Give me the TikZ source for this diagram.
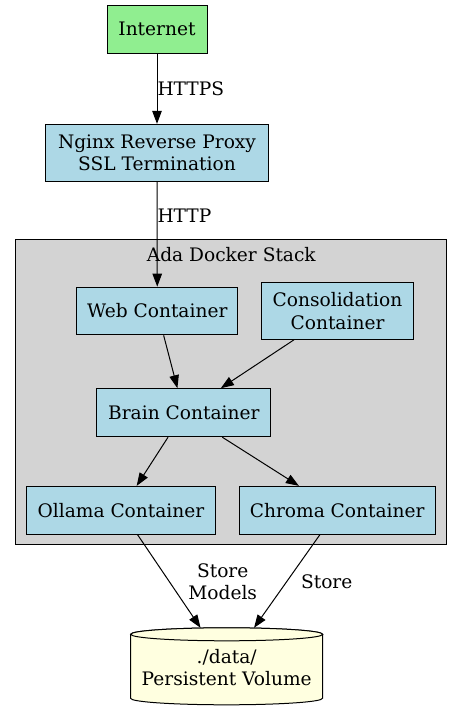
\documentclass[tikz,border=0pt]{standalone}
\usepackage{fontspec}
\setmainfont{DejaVu Serif}
\usetikzlibrary{arrows.meta}
\definecolor{lgreen}{HTML}{90EE90}
\definecolor{lblue}{HTML}{ADD8E6}
\definecolor{lgrey}{HTML}{D3D3D3}
\definecolor{lyellow}{HTML}{FFFFE0}
\tikzset{
  box/.style={draw=black, line width=1pt, fill=lblue, inner sep=0pt, align=center},
  conn/.style={line width=1pt, -{Triangle[length=13pt,width=9.5pt]}},
  lbl/.style={inner sep=0pt, align=center},
}
\begin{document}
\begin{tikzpicture}[x=1pt,y=-1pt, font=\fontsize{18.6}{22.4}\selectfont]
\useasboundingbox (0,0) rectangle (463,712);
% cluster
\node[draw=black, line width=1pt, fill=lgrey, minimum width=431pt, minimum height=305.3pt, inner sep=0pt] (stack) at (231.2,391.7) {};
\node[lbl, anchor=base] (stacklbl) at (231.3,261.7) {Ada Docker Stack};
% nodes
\node[box, fill=lgreen, minimum width=100pt, minimum height=48pt] (inet) at (157,29) {Internet};
\node[box, minimum width=222.6pt, minimum height=56.7pt] (nginx) at (157,152.7) {Nginx Reverse Proxy\\SSL Termination};
\node[box, minimum width=161.3pt, minimum height=47.7pt] (web) at (157.3,311) {Web Container};
\node[box, minimum width=151.6pt, minimum height=56.6pt] (cons) at (337.5,311) {Consolidation\\Container};
\node[box, minimum width=173.7pt, minimum height=48pt] (brain) at (183.8,412.7) {Brain Container};
\node[box, minimum width=188.6pt, minimum height=47.7pt] (oll) at (121,510.2) {Ollama Container};
\node[box, minimum width=196.3pt, minimum height=47.7pt] (chroma) at (337.2,510.2) {Chroma Container};
% volume
\node[lbl, minimum width=192pt, minimum height=77pt] (vol) at (226.7,666.5) {};
\path (vol.north west) ++(0,6.5) coordinate (vtl);
\filldraw[fill=lyellow, line width=1pt] (vtl) -- ++(0,64) arc[start angle=180, end angle=360, x radius=96pt, y radius=6.5pt] -- ++(0,-64) arc[start angle=0, end angle=180, x radius=96pt, y radius=6.5pt] -- cycle;
\path (vol.north) ++(0,6.5) coordinate (vtc);
\filldraw[fill=lyellow, line width=1pt] (vtc) ellipse [x radius=96pt, y radius=6.5pt];
\node[lbl, font=\fontsize{18.6}{21.3}\selectfont] (voltext) at (226.7,667.5) {./data/\\Persistent Volume};
% connectors
\draw[conn] (inet) -- (nginx);
\node[lbl, anchor=base west] (https) at (157.3,95) {HTTPS};
\draw[conn] (nginx) -- (web);
\node[lbl, anchor=base west] (http) at (157.3,222.7) {HTTP};
\draw[conn] (web) -- (brain);
\draw[conn] (cons) -- (brain);
\draw[conn] (brain) -- (oll);
\draw[conn] (brain) -- (chroma);
\draw[conn] (oll) -- (vol);
\draw[conn] (chroma) -- (vol);
\node[lbl] (storemodels) at (222.7,582) {Store\\Models};
\node[lbl] (store) at (326.7,581.7) {Store};
\end{tikzpicture}
\end{document}
